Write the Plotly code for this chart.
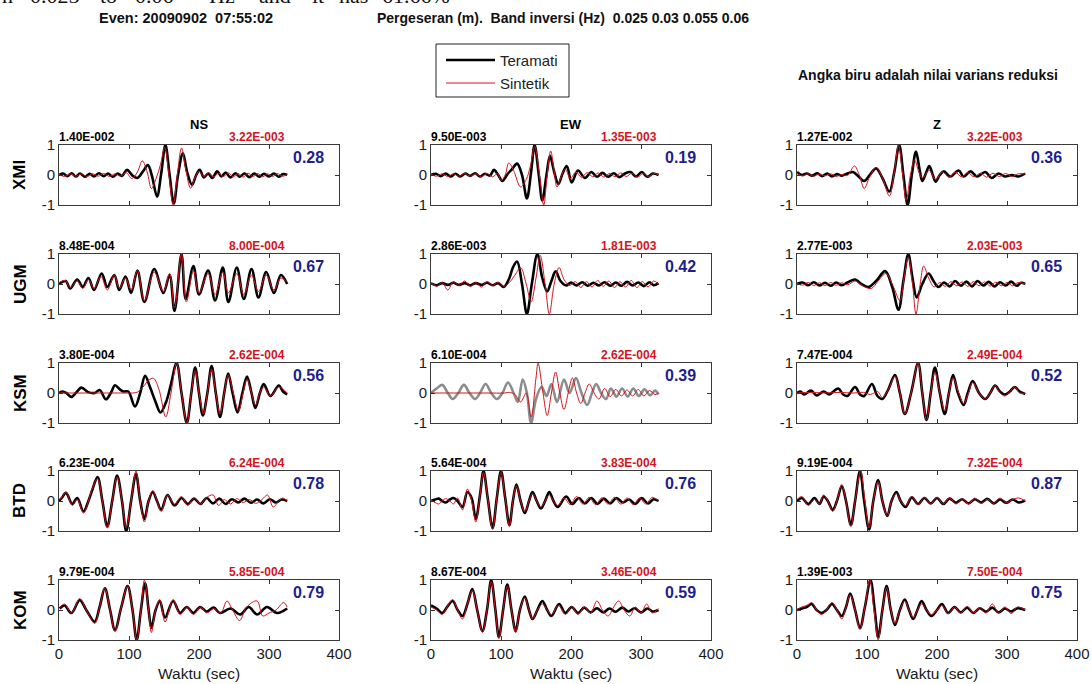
import plotly.graph_objects as go

# ---------------- data ----------------
stations = ["XMI", "UGM", "KSM", "BTD", "KOM"]
components = ["NS", "EW", "Z"]
obs_peak = [["1.40E-002", "9.50E-003", "1.27E-002"],
            ["8.48E-004", "2.86E-003", "2.77E-003"],
            ["3.80E-004", "6.10E-004", "7.47E-004"],
            ["6.23E-004", "5.64E-004", "9.19E-004"],
            ["9.79E-004", "8.67E-004", "1.39E-003"]]
syn_peak = [["3.22E-003", "1.35E-003", "3.22E-003"],
            ["8.00E-004", "1.81E-003", "2.03E-003"],
            ["2.62E-004", "2.62E-004", "2.49E-004"],
            ["6.24E-004", "3.83E-004", "7.32E-004"],
            ["5.85E-004", "3.46E-004", "7.50E-004"]]
var_red = [["0.28", "0.19", "0.36"],
           ["0.67", "0.42", "0.65"],
           ["0.56", "0.39", "0.52"],
           ["0.78", "0.76", "0.87"],
           ["0.79", "0.59", "0.75"]]
x_ticks = [0, 100, 200, 300, 400]
y_ticks = [-1, 0, 1]
y_tick_text = ["-1", "0", "1"]
x_title = "Waktu (sec)"
unused = [("KSM", "EW")]  # station-component not used in inversion (grey)

# waveforms: (time sec, normalised amplitude)
XMI_NS_obs = [(0,0),(6,0.05),(12,-0.04),(18,0.06),(24,-0.05),(30,0.05),(37,-0.06),(44,0.04),(50,-0.05),(57,0.06),(64,-0.04),(70,0.05),(77,-0.06),(84,0.05),(90,-0.03),(97,0.17),(105,-0.02),(112,-0.1),(120,0.12),(127,0.33),(133,-0.05),(140,-0.72),(146,0.05),(152,1.0),(158,0.0),(164,-0.95),(170,0.0),(177,0.72),(183,0.1),(190,-0.33),(196,0.0),(201,0.17),(207,-0.08),(213,0.05),(219,-0.1),(226,0.12),(232,-0.05),(238,0.08),(245,-0.08),(252,0.06),(258,-0.06),(265,0.05),(272,-0.07),(279,0.05),(286,-0.06),(293,0.04),(300,-0.05),(307,0.05),(314,-0.06),(320,0.03),(326,0.0)]
XMI_NS_syn = [(0,0.02),(8,-0.05),(16,0.04),(24,-0.04),(32,0.04),(40,-0.05),(48,0.04),(56,-0.04),(64,0.05),(72,-0.05),(80,0.04),(88,-0.04),(96,0.08),(104,-0.12),(112,0.1),(119,0.47),(126,0.1),(132,-0.45),(139,-0.1),(145,0.35),(151,0.92),(157,0.0),(163,-1.0),(169,0.0),(175,0.9),(181,0.2),(188,-0.44),(194,-0.1),(200,0.12),(207,-0.05),(214,0.08),(221,-0.06),(228,0.06),(235,-0.05),(242,0.07),(249,-0.06),(256,0.05),(263,-0.07),(270,0.06),(277,-0.05),(284,0.05),(291,-0.06),(298,0.04),(305,-0.05),(312,0.05),(319,-0.04),(326,0.01)]
XMI_EW_obs = [(0,0),(7,0.04),(14,-0.04),(21,0.05),(28,-0.05),(35,0.04),(42,-0.05),(49,0.05),(56,-0.03),(63,0.06),(70,-0.05),(77,0.04),(84,-0.02),(90,0.17),(96,0.0),(102,-0.2),(110,0.05),(116,0.2),(123,0.38),(130,0.0),(137,-0.78),(143,0.1),(148,1.0),(154,0.0),(159,-0.85),(165,0.0),(170,0.64),(176,0.1),(182,-0.3),(188,0.05),(194,0.3),(201,-0.25),(210,0.15),(220,-0.1),(229,0.1),(237,-0.06),(245,0.07),(253,-0.06),(261,0.06),(269,-0.07),(277,0.05),(285,0.1),(293,-0.05),(301,0.1),(309,-0.06),(317,0.05),(325,0.0)]
XMI_EW_syn = [(0,0.02),(8,-0.04),(16,0.04),(24,-0.05),(32,0.04),(40,-0.04),(48,0.05),(56,-0.04),(64,0.04),(72,-0.05),(80,0.05),(88,-0.06),(95,0.05),(100,-0.18),(106,0.0),(111,0.4),(118,0.15),(128,-0.4),(136,-0.15),(142,0.3),(148,0.95),(155,0.0),(161,-1.0),(166,0.0),(171,0.8),(176,0.1),(180,-0.4),(186,-0.05),(192,0.2),(199,-0.12),(207,0.1),(215,-0.08),(223,0.08),(231,-0.06),(239,0.07),(247,-0.07),(255,0.05),(263,-0.06),(271,0.07),(279,-0.05),(287,0.06),(295,-0.07),(303,0.05),(311,-0.05),(318,0.06),(325,0.0)]
XMI_Z_obs = [(0,0.1),(7,0.0),(14,0.05),(22,-0.02),(29,0.06),(36,-0.04),(43,0.05),(50,-0.05),(57,0.03),(64,-0.02),(72,0.05),(80,0.1),(88,-0.05),(96,-0.2),(104,0.0),(113,0.22),(122,-0.1),(132,-0.55),(139,0.1),(146,1.0),(152,0.0),(158,-1.0),(164,0.0),(170,0.78),(175,0.2),(179,-0.2),(184,0.05),(189,0.3),(194,0.0),(198,-0.22),(204,0.0),(210,0.12),(219,-0.05),(231,0.15),(238,-0.05),(248,0.12),(257,-0.05),(269,0.1),(278,-0.1),(288,0.05),(297,-0.05),(307,0.0),(316,-0.05),(326,0.05)]
XMI_Z_syn = [(0,0.05),(8,-0.03),(16,0.04),(24,-0.04),(32,0.03),(40,-0.03),(48,0.04),(56,-0.05),(64,0.02),(72,-0.02),(82,0.3),(89,0.0),(96,-0.45),(104,-0.05),(113,0.25),(122,-0.1),(132,-0.7),(139,0.1),(145,1.0),(151,0.0),(156,-0.85),(162,0.0),(168,0.5),(174,0.1),(179,-0.1),(189,0.15),(198,-0.15),(208,0.1),(217,-0.08),(226,0.1),(235,-0.06),(244,0.08),(253,-0.06),(262,0.06),(271,-0.07),(280,0.06),(289,-0.05),(298,0.05),(307,-0.05),(316,0.04),(326,0.03)]

UGM_NS_obs = [(0,0.0),(9.6,0.1),(16,-0.15),(26,0.15),(34,-0.1),(42,0.2),(50,-0.2),(61,0.35),(69,-0.1),(79,0.3),(86,-0.2),(95,0.25),(103,-0.3),(112,0.45),(122,-0.6),(136,0.5),(149,-0.3),(158,0.3),(165,-0.9),(175,1.0),(181,-0.5),(192,0.6),(200,-0.35),(213,0.45),(223,-0.55),(234,0.55),(242,-0.6),(254,0.55),(264,-0.5),(275,0.5),(285,-0.45),(296,0.4),(307,-0.3),(317,0.3),(326,0.0)]
UGM_NS_syn = [(0,0.05),(9,0.12),(16,-0.12),(26,0.1),(34,-0.15),(42,0.15),(50,-0.15),(60,0.25),(69,-0.2),(79,0.3),(86,-0.15),(95,0.2),(103,-0.2),(112,0.45),(122,-0.55),(136,0.4),(149,-0.25),(158,0.35),(165,-0.8),(175,1.0),(182,-0.6),(192,0.45),(200,-0.3),(213,0.35),(223,-0.35),(234,0.4),(242,-0.3),(254,0.35),(264,-0.35),(275,0.3),(285,-0.25),(296,0.3),(307,-0.2),(317,0.2),(326,0.05)]
UGM_EW_obs = [(0,0.02),(8,-0.04),(16,0.03),(24,-0.03),(32,0.04),(40,-0.03),(48,0.03),(56,-0.04),(64,0.03),(72,-0.03),(80,0.04),(88,-0.04),(96,0.03),(104,-0.1),(112,0.2),(117,0.55),(123,0.75),(130,0.0),(137,-1.0),(144,0.0),(152,1.0),(159,0.2),(166,-0.25),(172,0.1),(178,0.42),(185,0.1),(193,-0.05),(200,0.05),(208,-0.05),(216,0.06),(224,-0.06),(232,0.04),(240,-0.05),(248,0.06),(256,-0.06),(264,0.05),(272,-0.06),(280,0.07),(288,-0.05),(296,0.05),(304,-0.07),(312,0.06),(318,-0.04),(325,0.03)]
UGM_EW_syn = [(0,0.05),(8,-0.08),(16,0.05),(24,-0.2),(32,0.08),(40,-0.05),(48,0.1),(56,-0.08),(64,0.05),(72,-0.1),(80,0.08),(88,-0.05),(96,0.06),(104,-0.08),(112,0.05),(120,0.3),(128,0.55),(136,0.0),(143,-0.6),(150,0.2),(156,0.95),(163,0.0),(169,-1.0),(176,0.0),(183,0.55),(190,0.15),(198,-0.05),(206,0.08),(214,-0.12),(222,0.08),(230,-0.1),(238,0.12),(246,-0.08),(254,0.1),(262,-0.12),(270,0.08),(278,-0.1),(286,0.12),(294,-0.12),(302,0.08),(310,-0.1),(318,0.1),(325,0.0)]
UGM_Z_obs = [(0,0.0),(8,0.05),(16,-0.04),(24,0.06),(32,-0.05),(40,0.04),(48,-0.06),(56,0.05),(64,-0.04),(72,0.05),(83,0.15),(92,0.0),(102,-0.1),(113,0.1),(126,0.43),(136,-0.1),(145,-0.86),(152,0.1),(159,1.0),(165,0.2),(171,-0.45),(179,0.0),(188,0.35),(195,0.1),(202,-0.1),(210,0.05),(218,-0.08),(226,0.1),(234,-0.06),(242,0.08),(250,-0.08),(258,0.1),(266,-0.05),(274,0.07),(282,-0.08),(290,0.06),(298,-0.05),(306,0.08),(314,-0.06),(320,0.04),(326,0.0)]
UGM_Z_syn = [(0,0.02),(8,-0.04),(16,0.05),(24,-0.05),(32,0.04),(40,-0.05),(48,0.05),(56,-0.04),(64,0.04),(72,-0.03),(83,0.1),(93,-0.05),(106,-0.15),(116,0.1),(127,0.35),(137,-0.05),(147,-0.55),(153,0.2),(159,0.9),(165,0.0),(170,-1.0),(176,0.0),(181,0.6),(188,0.2),(196,-0.1),(204,0.05),(212,-0.08),(220,0.08),(228,-0.06),(236,0.07),(244,-0.08),(252,0.08),(260,-0.06),(268,0.07),(276,-0.07),(284,0.06),(292,-0.06),(300,0.05),(308,-0.06),(316,0.05),(326,0.0)]

KSM_NS_obs = [(0,0.0),(5,0.05),(10.5,0.0),(17.7,-0.13),(24,0.0),(32,0.18),(41.6,0.03),(51,0.0),(58,0.1),(67,-0.21),(74,0.0),(80,0.26),(87,0.12),(92,0.05),(99,0.05),(108.5,-0.45),(116,0.0),(123,0.57),(130,0.2),(138,-0.3),(145,-0.65),(153,-0.3),(160,0.3),(168,1.0),(175,0.0),(182.6,-1.0),(189,0.0),(194.5,0.85),(200,0.0),(205.5,-0.75),(212,0.0),(218,0.9),(224,0.0),(230,-0.8),(236,0.0),(241.7,0.65),(248,0.0),(255,-0.65),(262,0.0),(268.6,0.55),(275,0.0),(280.5,-0.5),(287,0.0),(292.5,0.3),(302,-0.1),(314,0.25),(320,0.05),(326,-0.05)]
KSM_NS_syn = [(0,0.0),(30,0.0),(60,0.0),(90,0.0),(105,0.0),(112,0.03),(120,0.2),(128,0.42),(135,0.49),(143,0.1),(152.5,-0.8),(160,0.0),(168,1.0),(175,0.0),(182.6,-1.0),(189,0.0),(194.5,0.75),(200,0.0),(206.5,-0.7),(212,0.0),(218,0.8),(224,0.0),(230,-0.7),(236,0.0),(241.7,0.6),(249,0.0),(256.6,-0.6),(263,0.0),(268.6,0.45),(275,0.0),(280.5,-0.4),(287,0.0),(292.5,0.2),(302,-0.1),(314,0.2),(326,0.0)]
KSM_EW_obs = [(0,0.0),(8,0.15),(16,0.27),(24,0.0),(31,-0.2),(39,0.0),(47,0.27),(55,0.0),(63,-0.2),(70,0.0),(78,0.3),(86,0.0),(94,-0.2),(102,0.0),(110,0.35),(118,0.0),(124,-0.3),(131,0.45),(137,0.0),(143,-1.0),(150,-0.2),(158,0.2),(165,-0.1),(172,0.3),(180,-0.3),(190,0.45),(198,0.0),(207,0.5),(215,0.0),(223,-0.4),(230,0.0),(236,0.3),(243,0.0),(250,-0.2),(257,0.15),(265,-0.12),(273,0.15),(281,-0.12),(289,0.15),(297,-0.1),(305,0.12),(313,-0.08),(320,0.08),(325,-0.05)]
KSM_EW_syn = [(0,0.0),(40,0.0),(80,0.0),(105,0.0),(112,0.02),(120,-0.05),(128,-0.3),(136,0.0),(143,-0.8),(150,0.5),(153,1.0),(160,0.0),(166,-0.75),(172,0.0),(178,0.7),(184,0.0),(190,-0.55),(196,0.0),(202,0.5),(208,0.0),(214,-0.35),(220,0.0),(226,0.3),(233,0.0),(240,-0.2),(248,0.15),(256,-0.12),(264,0.12),(272,-0.1),(280,0.1),(288,-0.1),(296,0.12),(304,-0.1),(312,0.08),(320,-0.05),(325,0.0)]
KSM_Z_obs = [(0,0.0),(5,0.05),(10,-0.05),(20,0.08),(28,-0.08),(38,0.05),(46,-0.05),(52,0.05),(59,0.15),(66,-0.05),(72,-0.1),(83,0.2),(90,-0.05),(96,-0.1),(107,0.3),(115,-0.1),(122,-0.2),(130,0.1),(140,0.6),(147,0.0),(154,-0.7),(163,0.0),(173,1.0),(179,0.0),(185,-0.9),(191,0.0),(197,0.85),(204,0.0),(211,-0.7),(217,0.0),(223,0.6),(230,0.0),(238,-0.4),(244,0.0),(251,0.4),(260,0.0),(269,-0.2),(276,0.0),(283,0.25),(290,0.05),(297,-0.05),(304,0.05),(311,0.2),(318,0.05),(326,-0.03)]
KSM_Z_syn = [(0,0.0),(20,0.02),(40,0.0),(60,0.02),(80,0.0),(95,0.02),(105,-0.05),(115,0.05),(122,-0.15),(130,0.1),(140,0.55),(147,0.0),(154,-0.7),(163,0.0),(173,1.0),(179,0.0),(185,-0.9),(191,0.0),(197,0.7),(204,0.0),(211,-0.6),(217,0.0),(223,0.5),(231,0.0),(238,-0.35),(245,0.0),(251,0.35),(260,0.0),(269,-0.2),(276,0.0),(283,0.25),(290,0.0),(297,-0.1),(304,0.05),(311,0.2),(318,0.0),(326,0.0)]

BTD_NS_obs = [(0,0.0),(4,0.1),(10,0.27),(19,-0.1),(26,0.1),(35,-0.35),(42,0.0),(48,0.4),(55,0.8),(62,0.0),(69,-0.85),(76,0.0),(83,0.85),(90,0.0),(96,-1.0),(103,0.0),(110,0.9),(116,0.0),(122,-0.6),(128,0.0),(134,0.3),(140,0.0),(146,-0.3),(155,0.2),(165,-0.15),(175,0.1),(184,-0.1),(193,0.08),(202,-0.1),(211,0.1),(220,-0.08),(229,0.08),(238,-0.1),(247,0.06),(256,-0.05),(265,0.08),(274,-0.06),(283,0.05),(292,-0.08),(301,0.06),(310,-0.05),(318,0.05),(326,0.0)]
BTD_NS_syn = [(0,0.05),(5,0.15),(10,0.3),(19,-0.15),(26,0.05),(35,-0.4),(42,0.0),(48,0.45),(55,0.75),(62,0.0),(69,-0.9),(76,0.0),(83,0.8),(90,0.0),(96,-0.9),(103,0.0),(110,1.0),(116,0.0),(122,-0.7),(128,0.0),(134,0.35),(140,0.0),(146,-0.35),(155,0.2),(165,-0.1),(175,0.15),(184,-0.15),(193,0.1),(202,-0.1),(211,0.12),(220,0.2),(228,-0.15),(236,0.05),(245,-0.1),(254,0.08),(263,-0.05),(272,0.05),(281,-0.08),(290,0.05),(298,0.2),(306,-0.2),(314,0.0),(320,0.1),(326,0.0)]
BTD_EW_obs = [(0,0.0),(6,0.05),(11,0.08),(16,0.0),(21,-0.05),(27,0.05),(32,0.1),(38,0.0),(45,-0.2),(52,0.3),(58,0.1),(64,-0.6),(70,0.2),(75,1.0),(81,0.1),(88,-0.9),(94,0.1),(100,1.0),(106,0.1),(112,-0.8),(117,0.0),(122,0.55),(128,0.0),(134,-0.4),(140,0.0),(145,0.3),(151,0.0),(157,-0.25),(163,0.0),(169,0.3),(175,0.0),(181,-0.2),(193,0.15),(202,-0.1),(211,0.1),(220,-0.08),(229,0.1),(238,-0.1),(247,0.08),(256,-0.08),(265,0.1),(274,-0.05),(283,0.05),(292,-0.1),(301,0.1),(310,-0.08),(318,0.06),(325,0.0)]
BTD_EW_syn = [(0,0.02),(6,-0.05),(11,-0.1),(16,0.0),(21,0.08),(27,0.0),(32,-0.1),(38,0.1),(45,-0.3),(52,0.4),(58,0.0),(64,-0.7),(70,0.2),(75,0.95),(81,0.1),(88,-0.95),(94,0.1),(100,0.95),(106,0.1),(112,-0.85),(117,0.0),(122,0.5),(128,0.0),(134,-0.35),(140,0.0),(145,0.25),(151,0.0),(157,-0.2),(163,0.0),(169,0.2),(175,0.0),(181,-0.15),(190,0.1),(199,-0.12),(208,0.15),(217,-0.1),(226,0.12),(235,-0.12),(244,0.1),(253,-0.1),(262,0.12),(271,-0.1),(280,0.1),(289,-0.12),(298,0.1),(307,-0.1),(316,0.12),(325,0.0)]
BTD_Z_obs = [(0,0.0),(7,0.1),(16,-0.1),(25,0.1),(32,-0.1),(38,0.15),(44,0.0),(51,-0.3),(57,0.0),(64,0.5),(70,0.0),(77,-0.8),(83,0.0),(90,1.0),(96,0.0),(103,-0.95),(109,0.0),(116,0.7),(122,0.0),(129,-0.5),(135,0.0),(142,0.3),(148,0.0),(155,-0.2),(164,0.12),(173,-0.1),(182,0.1),(191,-0.08),(200,0.1),(209,-0.1),(218,0.08),(227,-0.06),(236,0.06),(245,-0.08),(254,0.06),(263,-0.05),(272,0.07),(281,-0.08),(290,0.05),(299,-0.06),(308,0.05),(317,-0.05),(326,0.02)]
BTD_Z_syn = [(0,0.05),(7,0.15),(16,-0.15),(25,0.05),(32,-0.1),(38,0.2),(44,0.0),(51,-0.35),(57,0.0),(64,0.55),(70,0.0),(77,-0.85),(83,0.0),(91,1.0),(97,0.0),(103,-0.9),(109,0.0),(116,0.65),(122,0.0),(129,-0.5),(135,0.0),(142,0.25),(148,0.0),(155,-0.15),(164,0.15),(173,-0.12),(182,0.12),(191,-0.1),(200,0.12),(209,-0.1),(218,0.1),(227,-0.1),(236,0.08),(245,-0.1),(254,0.1),(263,-0.08),(272,0.06),(281,-0.08),(290,0.1),(299,-0.06),(308,0.05),(317,0.1),(326,0.0)]

KOM_NS_obs = [(1,0.05),(8,0.15),(17.7,-0.1),(29.6,0.33),(39,0.0),(51,-0.39),(58,0.1),(65.5,0.72),(73,0.0),(80,-0.67),(89,0.1),(98,0.8),(105,0.0),(111,-1.0),(117,0.0),(123,0.89),(128,0.0),(132,-0.6),(138,0.0),(144,0.3),(151.5,-0.25),(163,0.3),(173,-0.1),(182.5,0.1),(192,-0.1),(201.7,0.1),(211,-0.05),(221,0.08),(230,-0.1),(245,0.05),(259,-0.15),(271,0.1),(283,-0.15),(297,0.1),(311.6,-0.1),(326,0.05)]
KOM_NS_syn = [(1,0.08),(8,0.2),(17.7,-0.1),(29.6,0.38),(39,0.0),(51,-0.45),(58,0.1),(65.5,0.72),(73,0.0),(80,-0.72),(89,0.1),(98,0.8),(105,0.0),(111,-1.0),(117,0.0),(122,1.0),(128,0.0),(132,-0.75),(138,0.0),(144,0.35),(151.5,-0.4),(163,0.35),(173,-0.15),(183,0.1),(192,-0.15),(202,0.1),(211,-0.1),(221,0.05),(231,-0.1),(240,0.3),(248,0.0),(258,-0.35),(268,0.1),(283,0.3),(291,-0.2),(300,-0.1),(310,0.0),(321,0.25),(326,0.1)]
KOM_EW_obs = [(0,0.15),(8,0.05),(16,-0.1),(23,0.1),(31,0.3),(38,0.0),(45,-0.2),(52,0.2),(59,0.7),(66,0.0),(73.5,-0.7),(80,0.0),(86,1.0),(92,0.0),(97,-0.9),(103,0.0),(109,0.85),(115,0.0),(121,-0.7),(127,0.0),(134,0.45),(140,0.0),(145,-0.3),(152,0.0),(159,0.3),(166,0.0),(172,-0.2),(183,0.2),(192,-0.1),(201,0.1),(210,-0.1),(219,0.08),(228,-0.08),(237,0.06),(246,-0.08),(255,0.05),(264,-0.06),(273,0.08),(282,-0.05),(291,0.06),(300,-0.08),(309,0.05),(317,-0.05),(325,0.0)]
KOM_EW_syn = [(0,0.1),(8,0.0),(16,-0.15),(23,0.1),(31,0.35),(38,0.0),(45,-0.3),(52,0.2),(59,0.65),(66,0.0),(73.5,-0.75),(80,0.0),(86,0.95),(92,0.0),(97,-0.95),(103,0.0),(109,0.8),(115,0.0),(121,-0.75),(127,0.0),(134,0.4),(140,0.0),(145,-0.3),(152,0.0),(159,0.2),(166,0.0),(172,-0.15),(182,0.15),(192,-0.15),(201,0.12),(210,-0.15),(219,0.1),(228,-0.1),(237,0.3),(245,0.0),(253,-0.2),(261,0.1),(268,0.3),(276,0.0),(284,-0.2),(292,0.1),(300,-0.1),(308,0.2),(316,-0.1),(325,0.05)]
KOM_Z_obs = [(0,0.0),(7,0.05),(14,0.1),(21,0.2),(28,0.0),(35,-0.1),(42,0.0),(50,0.2),(57,0.0),(64,-0.2),(70,0.1),(76,0.55),(83,0.0),(90,-0.6),(97,0.1),(105,1.0),(111,0.0),(116,-0.9),(122,0.0),(128,0.8),(134,0.0),(140,-0.5),(147,0.0),(154,0.35),(160,0.0),(166,-0.3),(172,0.0),(178,0.3),(185,0.0),(192,-0.2),(200,0.0),(207,0.2),(216,-0.1),(225,0.1),(234,-0.08),(243,0.08),(252,-0.1),(261,0.06),(270,-0.06),(279,0.08),(288,-0.08),(297,0.05),(306,-0.05),(315,0.06),(326,0.0)]
KOM_Z_syn = [(0,0.02),(7,0.1),(14,0.15),(21,0.25),(28,0.0),(35,-0.15),(42,0.0),(50,0.25),(57,0.0),(64,-0.3),(70,0.1),(76,0.5),(83,0.0),(90,-0.65),(97,0.1),(104,1.0),(110,0.0),(116,-1.0),(122,0.0),(128,0.75),(134,0.0),(140,-0.45),(147,0.0),(154,0.3),(160,0.0),(166,-0.25),(172,0.0),(178,0.2),(185,0.0),(192,-0.15),(200,0.0),(207,0.15),(216,-0.12),(225,0.1),(234,-0.1),(243,0.12),(252,-0.1),(261,0.08),(270,-0.1),(279,0.2),(288,-0.1),(297,0.1),(306,-0.12),(315,0.1),(326,0.0)]

waves = {
    ("XMI", "NS"): (XMI_NS_obs, XMI_NS_syn), ("XMI", "EW"): (XMI_EW_obs, XMI_EW_syn), ("XMI", "Z"): (XMI_Z_obs, XMI_Z_syn),
    ("UGM", "NS"): (UGM_NS_obs, UGM_NS_syn), ("UGM", "EW"): (UGM_EW_obs, UGM_EW_syn), ("UGM", "Z"): (UGM_Z_obs, UGM_Z_syn),
    ("KSM", "NS"): (KSM_NS_obs, KSM_NS_syn), ("KSM", "EW"): (KSM_EW_obs, KSM_EW_syn), ("KSM", "Z"): (KSM_Z_obs, KSM_Z_syn),
    ("BTD", "NS"): (BTD_NS_obs, BTD_NS_syn), ("BTD", "EW"): (BTD_EW_obs, BTD_EW_syn), ("BTD", "Z"): (BTD_Z_obs, BTD_Z_syn),
    ("KOM", "NS"): (KOM_NS_obs, KOM_NS_syn), ("KOM", "EW"): (KOM_EW_obs, KOM_EW_syn), ("KOM", "Z"): (KOM_Z_obs, KOM_Z_syn),
}

# ---------------- layout ----------------
W, H = 1092, 684
FONT = "Liberation Sans, Arial, Helvetica, sans-serif"
col_x = [(59, 339), (431, 711), (797, 1077)]
row_top = [145, 254, 363, 471, 580]
box_h = 60
OBS_C, SYN_C, GREY_C, BLUE_C = "#000000", "#d4141e", "#8c8c8c", "#1e1e8c"

fig = go.Figure()
layout = dict(width=W, height=H, margin=dict(l=0, r=0, t=0, b=0, pad=0), autosize=False,
              paper_bgcolor="white", plot_bgcolor="white", showlegend=False,
              font=dict(family=FONT, color="#111"))
annotations, shapes = [], []

def px(x):
    return x / W

def py(y):
    return 1 - y / H

for r, st in enumerate(stations):
    for c, cp in enumerate(components):
        idx = r * 3 + c + 1
        xa = "x" if idx == 1 else f"x{idx}"
        ya = "y" if idx == 1 else f"y{idx}"
        xk = "xaxis" if idx == 1 else f"xaxis{idx}"
        yk = "yaxis" if idx == 1 else f"yaxis{idx}"
        x0, x1 = col_x[c]
        top = row_top[r]
        layout[xk] = dict(domain=[px(x0), px(x1)], range=[0, 400], anchor=ya, automargin=False,
                          tickvals=x_ticks, showticklabels=(r == 4), ticks="inside", ticklen=4,
                          tickcolor="#333", showline=True, mirror="ticks", linecolor="#3a3a3a",
                          linewidth=1, showgrid=False, zeroline=False,
                          tickfont=dict(size=15, color="#1a1a1a", family=FONT))
        layout[yk] = dict(domain=[py(top + box_h), py(top)], range=[-1, 1], anchor=xa, automargin=False,
                          tickvals=y_ticks, ticktext=y_tick_text, ticks="inside", ticklen=4,
                          tickcolor="#333", showline=True, mirror="ticks", linecolor="#3a3a3a",
                          linewidth=1, showgrid=False, zeroline=False,
                          tickfont=dict(size=15, color="#1a1a1a", family=FONT))
        obs, syn = waves[(st, cp)]
        oc = GREY_C if (st, cp) in unused else OBS_C
        fig.add_trace(go.Scatter(x=[p[0] for p in obs], y=[p[1] for p in obs], mode="lines",
                                 line=dict(color=oc, width=2.6, shape="spline"),
                                 xaxis=xa, yaxis=ya, name="Teramati", hoverinfo="skip"))
        fig.add_trace(go.Scatter(x=[p[0] for p in syn], y=[p[1] for p in syn], mode="lines",
                                 line=dict(color=SYN_C, width=1.0, shape="spline"),
                                 xaxis=xa, yaxis=ya, name="Sintetik", hoverinfo="skip"))
        annotations.append(dict(xref=xa, yref=ya, x=0, y=1, xanchor="left", yanchor="bottom",
                                xshift=-2, yshift=-1, showarrow=False, text=f"<b>{obs_peak[r][c]}</b>",
                                font=dict(size=12, color="#000", family=FONT)))
        annotations.append(dict(xref=xa, yref=ya, x=326, y=1, xanchor="right", yanchor="bottom",
                                yshift=-1, showarrow=False, text=f"<b>{syn_peak[r][c]}</b>",
                                font=dict(size=12, color=SYN_C, family=FONT)))
        annotations.append(dict(xref=xa, yref=ya, x=357, y=1, xanchor="center", yanchor="top",
                                yshift=-2, showarrow=False, text=f"<b>{var_red[r][c]}</b>",
                                font=dict(size=16, color=BLUE_C, family=FONT)))
        if r == 0:
            annotations.append(dict(xref=xa, yref=ya, x=200, y=1, xanchor="center", yanchor="bottom",
                                    yshift=11, showarrow=False, text=f"<b>{cp}</b>",
                                    font=dict(size=13, color="#000", family=FONT)))
        if r == 4:
            annotations.append(dict(xref=xa, yref="paper", x=200, y=py(673), xanchor="center",
                                    yanchor="middle", showarrow=False, text=x_title,
                                    font=dict(size=15.5, color="#1a1a1a", family=FONT)))
    annotations.append(dict(xref="paper", yref="paper", x=px(20), y=py(row_top[r] + box_h / 2),
                            xanchor="center", yanchor="middle", textangle=-90, showarrow=False,
                            text=f"<b>{st}</b>", font=dict(size=17, color="#000", family=FONT)))

# header texts
annotations.append(dict(xref="paper", yref="paper", x=px(97), y=py(18), xanchor="left", yanchor="middle",
                        showarrow=False, text="<b>Even: 20090902  07:55:02</b>",
                        font=dict(size=14.5, color="#111", family=FONT)))
annotations.append(dict(xref="paper", yref="paper", x=px(375), y=py(18), xanchor="left", yanchor="middle",
                        showarrow=False, text="<b>Pergeseran (m).  Band inversi (Hz)  0.025 0.03 0.055 0.06</b>",
                        font=dict(size=14, color="#111", family=FONT)))
annotations.append(dict(xref="paper", yref="paper", x=px(928), y=py(75), xanchor="center", yanchor="middle",
                        showarrow=False, text="<b>Angka biru adalah nilai varians reduksi</b>",
                        font=dict(size=14, color="#111", family=FONT)))

# cut-off caption line at very top of the picture (only its lower part shows, as in the source)
top_words = [("n", 0), ("0.025", 28), ("to", 98), ("0.06", 133), ("Hz", 207), ("and", 257),
             ("it", 310), ("has", 337), ("61.66%", 380)]
for w_, xw in top_words:
    annotations.append(dict(xref="paper", yref="paper", x=px(xw), y=py(10), xanchor="left",
                            yanchor="bottom", showarrow=False, text=w_,
                            font=dict(size=22, color="#111", family="Liberation Serif, Times New Roman, serif")))

# legend box (drawn)
shapes.append(dict(type="rect", xref="paper", yref="paper", x0=px(436), x1=px(569), y0=py(97), y1=py(44),
                   line=dict(color="#222", width=1), fillcolor="white"))
shapes.append(dict(type="line", xref="paper", yref="paper", x0=px(446), x1=px(495), y0=py(60), y1=py(60),
                   line=dict(color=OBS_C, width=2.6)))
shapes.append(dict(type="line", xref="paper", yref="paper", x0=px(446), x1=px(495), y0=py(83), y1=py(83),
                   line=dict(color=SYN_C, width=1)))
annotations.append(dict(xref="paper", yref="paper", x=px(498), y=py(60), xanchor="left", yanchor="middle",
                        showarrow=False, text="Teramati", font=dict(size=15, color="#222", family=FONT)))
annotations.append(dict(xref="paper", yref="paper", x=px(498), y=py(83), xanchor="left", yanchor="middle",
                        showarrow=False, text="Sintetik", font=dict(size=15, color="#222", family=FONT)))

layout["annotations"] = annotations
layout["shapes"] = shapes
fig.update_layout(**layout)
fig.write_html("out.html", config={"displayModeBar": False},
               post_script="document.body.style.margin='0';document.body.style.overflow='hidden';")
